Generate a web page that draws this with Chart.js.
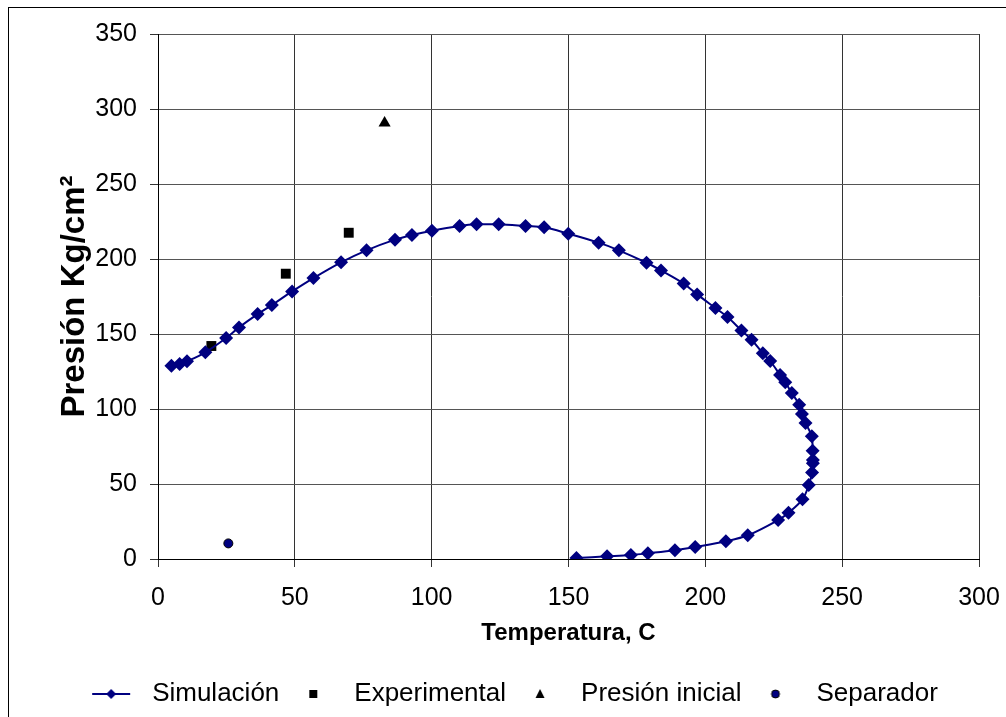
<!DOCTYPE html>
<html>
<head>
<meta charset="utf-8">
<script src="https://cdn.jsdelivr.net/npm/chart.js@4/dist/chart.umd.min.js"></script>
<style>
  html, body { margin: 0; padding: 0; background: #fff; }
  #wrap { width: 1006px; height: 717px; position: relative; }
</style>
</head>
<body>
<div id="wrap"><canvas id="c" width="1006" height="717"></canvas></div>
<script>
// ---- data ----
const simT = [4.9,7.9,10.6,17.3,24.9,29.6,36.4,41.6,49.0,56.8,66.9,76.2,86.6,92.8,100.1,110.2,116.4,124.5,134.3,141.1,149.9,161.0,168.4,178.5,183.8,192.1,197.0,203.7,208.1,213.2,216.9,221.0,223.7,227.3,229.2,231.6,234.3,235.3,236.6,238.9,239.2,239.3,239.3,239.0,237.8,235.5,230.4,226.6,215.5,207.5,196.3,188.9,179.0,172.8,164.1,152.9];
const simP = [128.9,130.0,131.8,137.8,147.3,154.4,163.3,169.3,178.4,187.3,197.8,205.8,212.9,216.0,218.9,222.0,223.1,223.1,222.0,221.1,216.9,210.9,205.8,197.5,192.4,183.6,176.4,167.3,161.3,152.4,146.2,137.1,132.0,122.7,117.8,110.7,102.9,96.7,90.7,81.8,72.2,66.0,63.8,57.6,49.3,39.8,30.9,26.0,15.8,11.8,8.0,5.8,3.8,2.7,1.8,0.7];
const expT = [19.5, 46.7, 69.7];
const expP = [142.0, 190.2, 217.5];
const iniT = [82.8];
const iniP = [290.7];
const sepT = [25.7];
const sepP = [10.4];
const xTicks = [0, 50, 100, 150, 200, 250, 300];
const yTicks = [0, 50, 100, 150, 200, 250, 300, 350];
const seriesNames = ['Simulación', 'Experimental', 'Presión inicial', 'Separador'];
const xTitle = 'Temperatura, C';
const yTitle = 'Presión Kg/cm²';

const NAVY = '#000080';
const FONT = "'Liberation Sans', Arial, sans-serif";

function pts(xs, ys) { return xs.map((x, i) => ({ x: x, y: ys[i] })); }

// legend symbols as small canvases (content in the left 40px, transparent margin on the right)
function legendIcon(kind) {
  const c = document.createElement('canvas');
  c.width = 48; c.height = 16;
  const g = c.getContext('2d');
  const cx = 20, cy = 8;
  if (kind === 'line') {
    g.strokeStyle = NAVY; g.lineWidth = 2;
    g.beginPath(); g.moveTo(1, cy); g.lineTo(39, cy); g.stroke();
    g.fillStyle = NAVY;
    g.beginPath(); g.moveTo(cx, cy - 5); g.lineTo(cx + 5, cy); g.lineTo(cx, cy + 5); g.lineTo(cx - 5, cy); g.closePath(); g.fill();
  } else if (kind === 'rect') {
    g.fillStyle = '#000'; g.fillRect(cx - 4, cy - 4, 8, 8);
  } else if (kind === 'tri') {
    g.fillStyle = '#000';
    g.beginPath(); g.moveTo(cx, cy - 5); g.lineTo(cx + 4.5, cy + 4); g.lineTo(cx - 4.5, cy + 4); g.closePath(); g.fill();
  } else {
    g.fillStyle = NAVY; g.strokeStyle = '#000'; g.lineWidth = 1;
    g.beginPath(); g.arc(cx, cy, 4, 0, Math.PI * 2); g.fill(); g.stroke();
  }
  return c;
}
const icons = [legendIcon('line'), legendIcon('rect'), legendIcon('tri'), legendIcon('circ')];

const framePlugin = {
  id: 'frame',
  beforeDraw(chart) {
    const ctx = chart.ctx;
    ctx.save();
    ctx.fillStyle = '#fff';
    ctx.fillRect(0, 0, chart.width, chart.height);
    ctx.strokeStyle = '#000';
    ctx.lineWidth = 1;
    ctx.strokeRect(8.5, 7.5, 1010, 720);
    ctx.restore();
  }
};

new Chart(document.getElementById('c'), {
  type: 'scatter',
  data: {
    datasets: [
      {
        label: seriesNames[0],
        data: pts(simT, simP),
        showLine: true,
        borderColor: NAVY,
        backgroundColor: NAVY,
        borderWidth: 2,
        tension: 0.35,
        pointStyle: 'rectRot',
        pointRadius: 7,
        pointBorderWidth: 0,
        pointBackgroundColor: NAVY
      },
      {
        label: seriesNames[1],
        data: pts(expT, expP),
        pointStyle: 'rect',
        pointRadius: 7,
        pointBorderWidth: 0,
        backgroundColor: '#000',
        borderColor: '#000'
      },
      {
        label: seriesNames[2],
        data: pts(iniT, iniP),
        pointStyle: 'triangle',
        pointRadius: 7,
        pointBorderWidth: 0,
        backgroundColor: '#000',
        borderColor: '#000'
      },
      {
        label: seriesNames[3],
        data: pts(sepT, sepP),
        pointStyle: 'circle',
        pointRadius: 4.5,
        pointBorderWidth: 1,
        backgroundColor: NAVY,
        borderColor: '#000'
      }
    ]
  },
  options: {
    responsive: false,
    animation: false,
    layout: { padding: { left: 50, right: 27, top: 34, bottom: 0 } },
    plugins: {
      tooltip: { enabled: false },
      legend: {
        position: 'bottom',
        labels: {
          usePointStyle: true,
          pointStyleWidth: 48,
          boxHeight: 16,
          padding: 14,
          color: '#000',
          font: { family: FONT, size: 26 },
          generateLabels(chart) {
            return chart.data.datasets.map((ds, i) => ({
              text: ds.label,
              pointStyle: icons[i],
              fillStyle: 'transparent',
              strokeStyle: 'transparent',
              lineWidth: 0,
              hidden: false,
              datasetIndex: i,
              fontColor: '#000'
            }));
          }
        }
      }
    },
    scales: {
      x: {
        type: 'linear',
        min: 0, max: 300,
        afterBuildTicks(scale) { scale.ticks = xTicks.map(v => ({ value: v })); },
        afterFit(scale) { scale.height = 108; scale.paddingLeft = 0; scale.paddingRight = 0; },
        ticks: { color: '#000', font: { family: FONT, size: 25 }, padding: 16, maxRotation: 0 },
        grid: { color: '#333', lineWidth: 1, tickLength: 8, tickColor: '#333' },
        border: { color: '#000', width: 1 },
        title: {
          display: true, text: xTitle, color: '#000',
          font: { family: FONT, size: 24, weight: 'bold' },
          padding: { top: 0, bottom: 19 }
        }
      },
      y: {
        type: 'linear',
        min: 0, max: 350,
        afterBuildTicks(scale) { scale.ticks = yTicks.map(v => ({ value: v })); },
        afterFit(scale) { scale.width = 108; scale.paddingTop = 0; scale.paddingBottom = 0; },
        ticks: { color: '#000', font: { family: FONT, size: 25 }, padding: 13 },
        grid: { color: '#555', lineWidth: 1, tickLength: 8, tickColor: '#333' },
        border: { color: '#000', width: 1 },
        title: {
          display: true, text: yTitle, color: '#000',
          font: { family: FONT, size: 33, weight: 'bold' },
          padding: { top: 5, bottom: 0 }
        }
      }
    }
  },
  plugins: [framePlugin]
});
</script>
</body>
</html>
